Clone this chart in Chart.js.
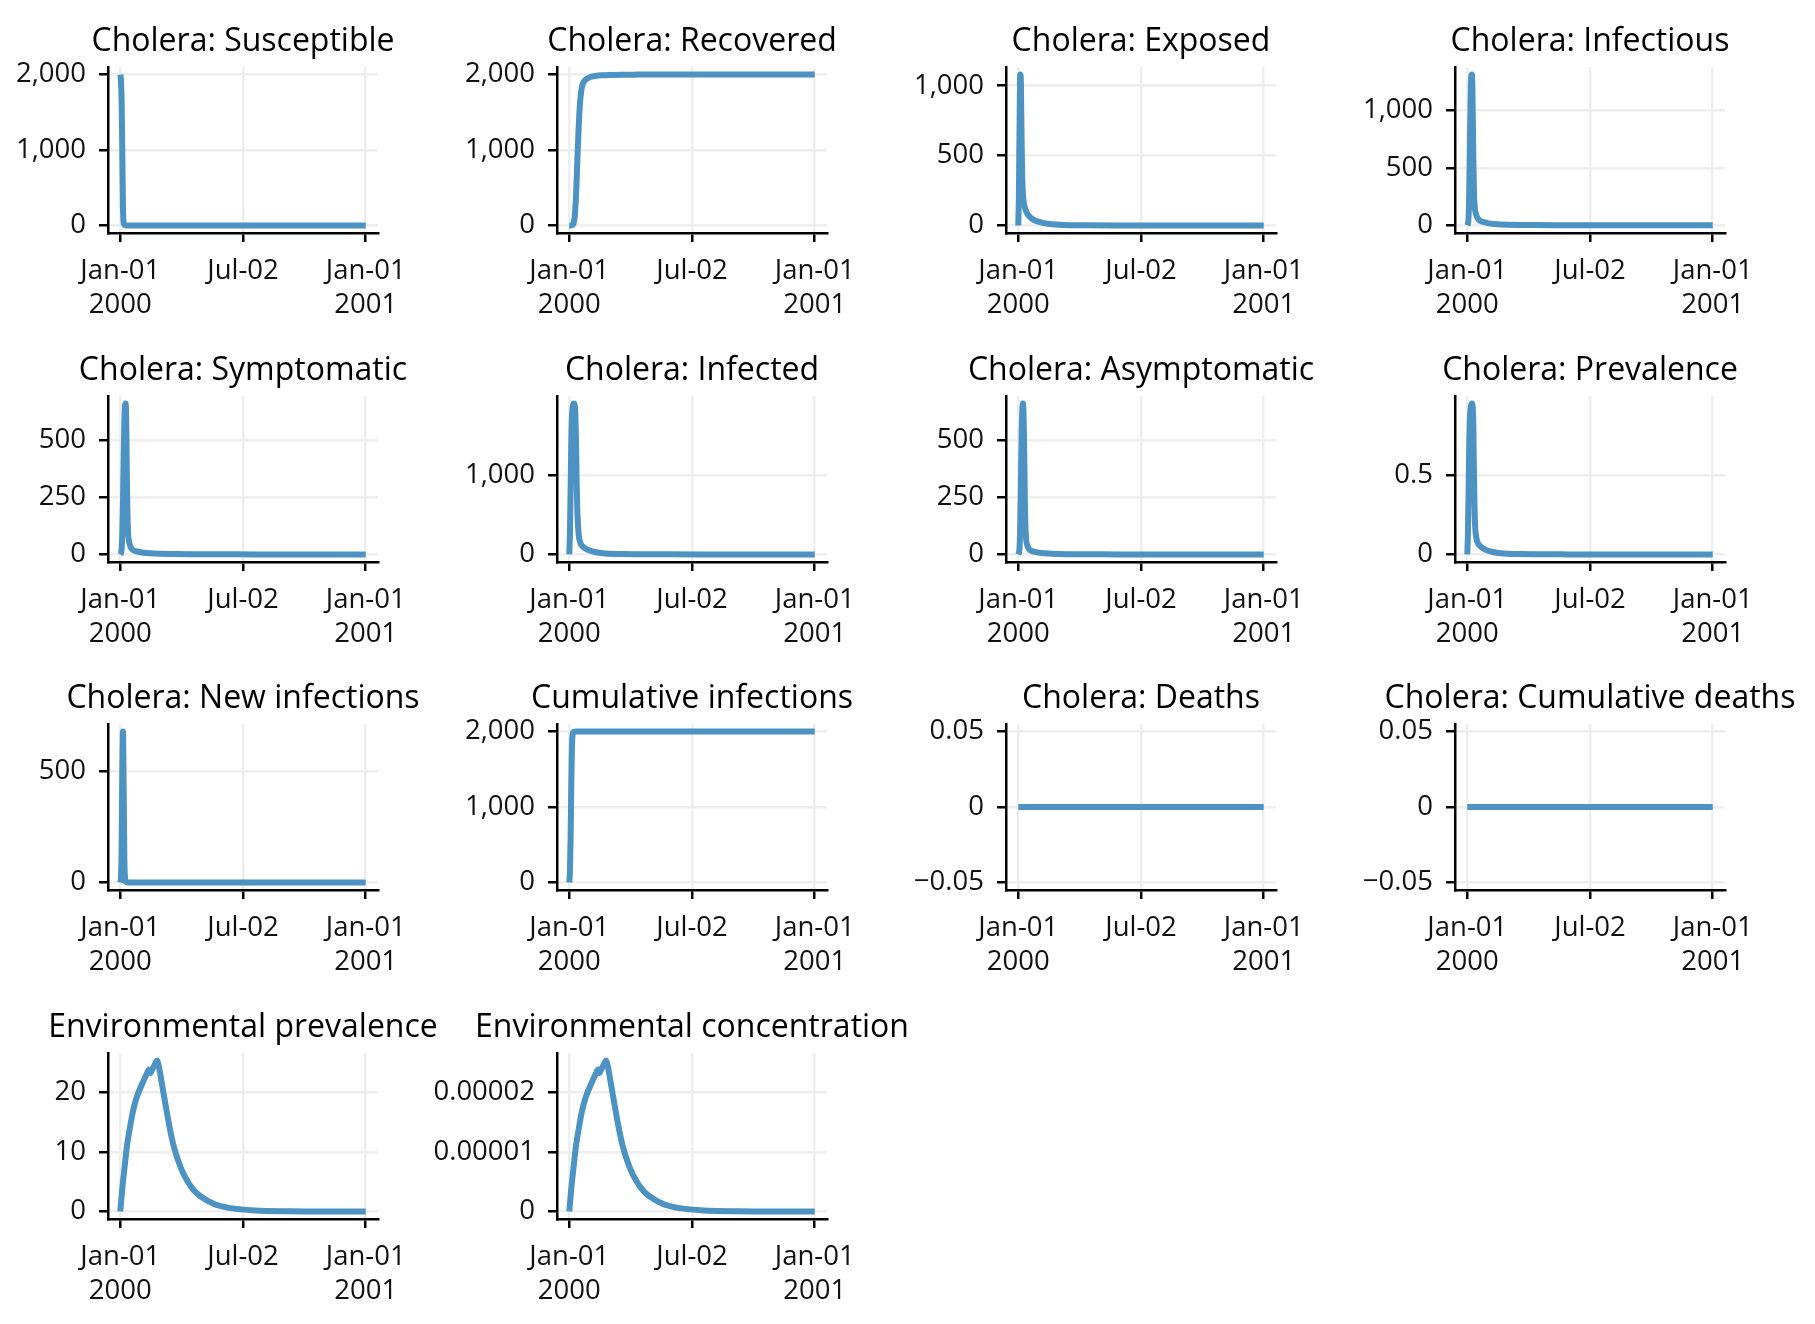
<!DOCTYPE html>
<html>
<head>
  <title>Cholera model results</title>
  <script src="https://cdn.jsdelivr.net/npm/chart.js@4.4.0/dist/chart.umd.min.js"></script>
  <style>
    html, body {
      margin: 0;
      background: #fff;
      overflow: hidden;
    }
    #grid {
      position: relative;
      width: 1815px;
      height: 1324px;
      overflow: hidden;
    }
    #grid canvas {
      position: absolute;
    }
  </style>
</head>
<body>
  <div id="grid"></div>
  <script>
    // days since 2000-01-01 for the epidemic outputs
    var epiDays = [0, 1, 2, 3, 4, 5, 6, 7, 8, 9, 10, 11, 12, 14, 16, 18, 20, 25, 30, 40, 50, 60, 80, 100, 150, 200, 250, 300, 366];

    var susceptible = [2000, 1920, 1650, 1000, 250, 40, 10, 4, 2, 1, 1, 0, 0, 0, 0, 0, 0, 0, 0, 0, 0, 0, 0, 0, 0, 0, 0, 0, 0];
    var recovered = [0, 0, 0, 1, 3, 8, 20, 50, 110, 220, 380, 600, 850, 1300, 1620, 1790, 1870, 1935, 1962, 1982, 1990, 1994, 1997, 1998, 1999, 1999, 1999, 1999, 1999];
    var exposed = [0, 250, 750, 1080, 1000, 600, 330, 220, 170, 145, 125, 110, 98, 80, 68, 58, 50, 36, 27, 15, 9, 5, 2, 1, 0, 0, 0, 0, 0];
    var infectious = [0, 15, 80, 300, 700, 1100, 1300, 1310, 1050, 600, 280, 170, 120, 80, 58, 46, 38, 28, 20, 12, 8, 6, 4, 3, 2, 1, 1, 1, 1];
    var symptomatic = [0, 5, 25, 90, 220, 400, 560, 650, 660, 560, 300, 140, 80, 45, 30, 22, 18, 13, 10, 6, 4, 3, 2, 1, 1, 0, 0, 0, 0];
    var infected = [0, 270, 830, 1400, 1720, 1840, 1885, 1895, 1880, 1790, 1450, 900, 550, 250, 160, 120, 100, 70, 50, 28, 16, 10, 5, 3, 1, 0, 0, 0, 0];
    var asymptomatic = [0, 8, 35, 140, 320, 520, 630, 662, 600, 420, 200, 100, 60, 35, 24, 18, 15, 11, 8, 5, 3, 2, 1, 1, 0, 0, 0, 0, 0];
    var prevalence = [0, 0.135, 0.415, 0.7, 0.86, 0.92, 0.943, 0.952, 0.935, 0.825, 0.5, 0.26, 0.16, 0.095, 0.07, 0.058, 0.05, 0.035, 0.025, 0.014, 0.008, 0.005, 0.0025, 0.0015, 0.0005, 0, 0, 0, 0];
    var newInfections = [0, 20, 150, 500, 681, 450, 120, 25, 6, 2, 1, 0, 0, 0, 0, 0, 0, 0, 0, 0, 0, 0, 0, 0, 0, 0, 0, 0, 0];
    var cumInfections = [0, 150, 600, 1300, 1800, 1960, 1990, 1997, 1999, 2000, 2000, 2000, 2000, 2000, 2000, 2000, 2000, 2000, 2000, 2000, 2000, 2000, 2000, 2000, 2000, 2000, 2000, 2000, 2000];
    var deaths = [0, 0, 0, 0, 0, 0, 0, 0, 0, 0, 0, 0, 0, 0, 0, 0, 0, 0, 0, 0, 0, 0, 0, 0, 0, 0, 0, 0, 0];
    var cumDeaths = [0, 0, 0, 0, 0, 0, 0, 0, 0, 0, 0, 0, 0, 0, 0, 0, 0, 0, 0, 0, 0, 0, 0, 0, 0, 0, 0, 0, 0];

    // days since 2000-01-01 for the environmental outputs
    var envDays = [0, 3, 6, 10, 14, 18, 22, 26, 30, 35, 40, 43, 45, 47, 50, 53, 55, 57, 60, 65, 70, 75, 80, 90, 100, 110, 120, 140, 160, 180, 200, 250, 300, 366];
    var envPrevalence = [0, 3.8, 7, 11, 13.8, 16.3, 18.2, 19.6, 20.7, 22, 23.2, 23.8, 23.2, 23.7, 24.3, 25, 25.3, 24.6, 22.8, 19.5, 16.3, 13.3, 10.8, 7.4, 5.1, 3.5, 2.5, 1.25, 0.65, 0.35, 0.18, 0.04, 0.01, 0];
    var envConcentration = [0, 3.8e-6, 7.0e-6, 1.1e-5, 1.38e-5, 1.63e-5, 1.82e-5, 1.96e-5, 2.07e-5, 2.2e-5, 2.32e-5, 2.38e-5, 2.32e-5, 2.37e-5, 2.43e-5, 2.5e-5, 2.53e-5, 2.46e-5, 2.28e-5, 1.95e-5, 1.63e-5, 1.33e-5, 1.08e-5, 7.4e-6, 5.1e-6, 3.5e-6, 2.5e-6, 1.25e-6, 6.5e-7, 3.5e-7, 1.8e-7, 4e-8, 1e-8, 0];

    // tick values and labels
    var xTickValues = [0, 183, 366];
    var xTickLabels = [['Jan-01', '2000'], 'Jul-02', ['Jan-01', '2001']];
    var ticksThousands = [0, 1000, 2000];
    var ticksExposed = [0, 500, 1000];
    var ticksQuarter = [0, 250, 500];
    var ticksInfected = [0, 1000];
    var ticksPrevalence = [0, 0.5];
    var ticksNew = [0, 500];
    var ticksDeaths = [-0.05, 0, 0.05];
    var ticksEnv = [0, 10, 20];
    var ticksConc = [0, 0.00001, 0.00002];

    var panels = [
      { title: 'Cholera: Susceptible', x: epiDays, y: susceptible, ticks: ticksThousands },
      { title: 'Cholera: Recovered', x: epiDays, y: recovered, ticks: ticksThousands },
      { title: 'Cholera: Exposed', x: epiDays, y: exposed, ticks: ticksExposed },
      { title: 'Cholera: Infectious', x: epiDays, y: infectious, ticks: ticksExposed },
      { title: 'Cholera: Symptomatic', x: epiDays, y: symptomatic, ticks: ticksQuarter },
      { title: 'Cholera: Infected', x: epiDays, y: infected, ticks: ticksInfected },
      { title: 'Cholera: Asymptomatic', x: epiDays, y: asymptomatic, ticks: ticksQuarter },
      { title: 'Cholera: Prevalence', x: epiDays, y: prevalence, ticks: ticksPrevalence },
      { title: 'Cholera: New infections', x: epiDays, y: newInfections, ticks: ticksNew },
      { title: 'Cumulative infections', x: epiDays, y: cumInfections, ticks: ticksThousands },
      { title: 'Cholera: Deaths', x: epiDays, y: deaths, ticks: ticksDeaths },
      { title: 'Cholera: Cumulative deaths', x: epiDays, y: cumDeaths, ticks: ticksDeaths },
      { title: 'Environmental prevalence', x: envDays, y: envPrevalence, ticks: ticksEnv },
      { title: 'Environmental concentration', x: envDays, y: envConcentration, ticks: ticksConc }
    ];

    Chart.defaults.font.family = '"Open Sans"';
    Chart.defaults.color = '#111';

    var lineColor = 'rgb(76, 146, 195)';
    var colStep = 449, rowStep = 328.6;
    var plotW = 270, plotH = 166;
    var sideW = 140, titleH = 48, axisH = 90;

    function fmtTick(v) {
      var s = Math.abs(v) >= 1000 ? v.toLocaleString('en-US') : String(v);
      return s.replace('-', '\u2212');
    }

    // matplotlib style 5% margins
    function padRange(values) {
      var lo = Math.min.apply(null, values), hi = Math.max.apply(null, values);
      if (lo === hi) return [lo - 0.055, hi + 0.055];
      var m = (hi - lo) * 0.05;
      return [lo - m, hi + m];
    }

    // title spans the whole canvas so it sits centred over the plot
    var centerTitle = {
      id: 'centerTitle',
      afterLayout: function (chart) {
        var t = chart.titleBlock;
        if (!t) return;
        t.left = 0;
        t.right = chart.width;
        t.width = chart.width;
      }
    };

    var grid = document.getElementById('grid');

    panels.forEach(function (p, i) {
      var col = i % 4, row = Math.floor(i / 4);
      var plotLeft = 108 + col * colStep;
      var plotTop = Math.round(67 + row * rowStep);

      var canvas = document.createElement('canvas');
      var w = plotW + 2 * sideW, h = titleH + plotH + axisH;
      canvas.width = w;
      canvas.height = h;
      canvas.style.width = w + 'px';
      canvas.style.height = h + 'px';
      canvas.style.left = (plotLeft - sideW) + 'px';
      canvas.style.top = (plotTop - titleH) + 'px';
      grid.appendChild(canvas);

      var pts = p.x.map(function (d, k) { return { x: d, y: p.y[k] }; });
      var yr = padRange(p.y);

      new Chart(canvas.getContext('2d'), {
        type: 'line',
        data: {
          datasets: [{
            data: pts,
            borderColor: lineColor,
            borderWidth: 6,
            pointRadius: 0,
            cubicInterpolationMode: 'monotone',
            borderJoinStyle: 'round',
            fill: false
          }]
        },
        plugins: [centerTitle],
        options: {
          responsive: false,
          animation: false,
          events: [],
          layout: { padding: { left: 0, right: sideW, top: 0, bottom: 0 } },
          plugins: {
            legend: { display: false },
            tooltip: { enabled: false },
            title: {
              display: true,
              text: p.title,
              color: '#000',
              font: { size: 32, weight: 'normal', lineHeight: '34px' },
              padding: { top: 6, bottom: 8 }
            }
          },
          scales: {
            x: {
              type: 'linear',
              min: -18.3,
              max: 384.3,
              afterBuildTicks: function (scale) {
                scale.ticks = xTickValues.map(function (v) { return { value: v }; });
              },
              afterFit: function (scale) { scale.height = axisH; },
              grid: { color: '#eeeeee', lineWidth: 2.5, tickColor: '#000', tickLength: 9, tickWidth: 2.5 },
              border: { display: true, color: '#000', width: 2.5 },
              ticks: {
                autoSkip: false,
                maxRotation: 0,
                padding: 12,
                color: '#111',
                font: { size: 27.5, lineHeight: '34px' },
                callback: function (v, idx) { return xTickLabels[idx]; }
              }
            },
            y: {
              min: yr[0],
              max: yr[1],
              afterBuildTicks: function (scale) {
                scale.ticks = p.ticks.map(function (v) { return { value: v }; });
              },
              afterFit: function (scale) { scale.width = sideW; },
              grid: { color: '#eeeeee', lineWidth: 2.5, tickColor: '#000', tickLength: 9, tickWidth: 2.5 },
              border: { display: true, color: '#000', width: 2.5 },
              ticks: {
                autoSkip: false,
                padding: 13,
                color: '#111',
                font: { size: 27.5 },
                callback: function (v) { return fmtTick(v); }
              }
            }
          }
        }
      });
    });
  </script>
</body>
</html>
